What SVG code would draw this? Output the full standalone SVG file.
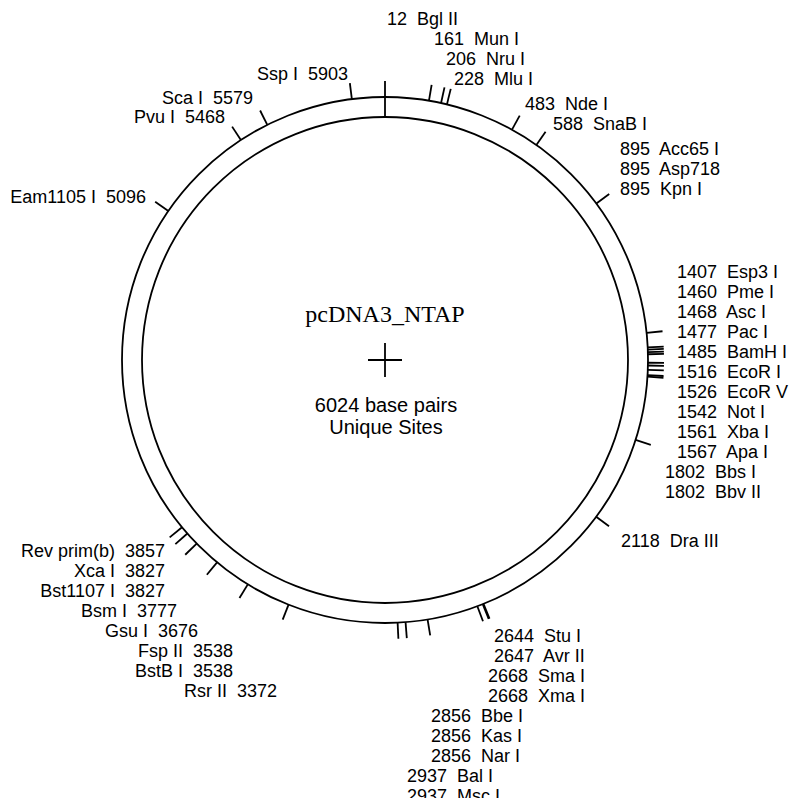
<svg xmlns="http://www.w3.org/2000/svg" width="791" height="798" viewBox="0 0 791 798">
<style>
  .bg{fill:#ffffff}
  .ring{fill:none;stroke:#000;stroke-width:1.8}
  .tk{stroke:#000;stroke-width:1.8;fill:none}
  .lb{font-family:"Liberation Sans",Arial,Helvetica,sans-serif;font-size:18px;fill:#000;white-space:pre}
  .le{text-anchor:end}
  .ttl{font-family:"Liberation Serif","Times New Roman",serif;font-size:24px;fill:#000;text-anchor:middle}
  .sub{font-family:"Liberation Sans",Arial,Helvetica,sans-serif;font-size:20px;fill:#000;text-anchor:middle}
</style>
<rect class="bg" x="0" y="0" width="791" height="798"/>
<g id="plasmid">
  <circle class="ring" cx="385" cy="360" r="263"/>
  <circle class="ring" cx="385" cy="360" r="243"/>
  <line class="tk" x1="385" y1="117" x2="385" y2="81"/>
  <line class="tk" x1="368" y1="360" x2="402" y2="360"/>
  <line class="tk" x1="385" y1="343" x2="385" y2="377"/>
  <text class="ttl" x="385" y="322">pcDNA3_NTAP</text>
  <text class="sub" x="386" y="412">6024 base pairs</text>
  <text class="sub" x="386" y="434">Unique Sites</text>
</g>
<g id="connectors"></g>
<g id="site-12"><text class="lb" x="387" y="25">12  Bgl II</text></g>
<g id="site-161"><line class="tk" x1="428.96" y1="100.70" x2="431.63" y2="84.93"/><text class="lb" x="434" y="45">161  Mun I</text></g>
<g id="site-206"><line class="tk" x1="441.08" y1="103.05" x2="444.49" y2="87.41"/><text class="lb" x="446" y="65">206  Nru I</text></g>
<g id="site-228"><line class="tk" x1="446.95" y1="104.40" x2="450.72" y2="88.85"/><text class="lb" x="454" y="85">228  Mlu I</text></g>
<g id="site-483"><line class="tk" x1="511.98" y1="129.68" x2="519.70" y2="115.67"/><text class="lb" x="525" y="110">483  Nde I</text></g>
<g id="site-588"><line class="tk" x1="536.36" y1="144.92" x2="545.57" y2="131.83"/><text class="lb" x="553" y="130">588  SnaB I</text></g>
<g id="site-895"><line class="tk" x1="596.35" y1="203.48" x2="609.21" y2="193.96"/>
  <text class="lb" x="620" y="155">895  Acc65 I</text>
  <text class="lb" x="620" y="175">895  Asp718</text>
  <text class="lb" x="620" y="195">895  Kpn I</text></g>
<g id="site-1407"><line class="tk" x1="646.60" y1="332.89" x2="662.51" y2="331.24"/><text class="lb" x="677" y="278">1407  Esp3 I</text></g>
<g id="site-1460"><line class="tk" x1="647.70" y1="347.38" x2="663.68" y2="346.62"/><text class="lb" x="677" y="298">1460  Pme I</text></g>
<g id="site-1468"><line class="tk" x1="647.79" y1="349.58" x2="663.78" y2="348.94"/><text class="lb" x="677" y="318">1468  Asc I</text></g>
<g id="site-1477"><line class="tk" x1="647.88" y1="352.05" x2="663.87" y2="351.56"/><text class="lb" x="677" y="338">1477  Pac I</text></g>
<g id="site-1485"><line class="tk" x1="647.94" y1="354.24" x2="663.93" y2="353.89"/><text class="lb" x="677" y="358">1485  BamH I</text></g>
<g id="site-1516"><line class="tk" x1="647.99" y1="362.75" x2="663.99" y2="362.91"/><text class="lb" x="677" y="378">1516  EcoR I</text></g>
<g id="site-1526"><line class="tk" x1="647.94" y1="365.49" x2="663.94" y2="365.82"/><text class="lb" x="677" y="398">1526  EcoR V</text></g>
<g id="site-1542"><line class="tk" x1="647.82" y1="369.87" x2="663.80" y2="370.47"/><text class="lb" x="677" y="418">1542  Not I</text></g>
<g id="site-1561"><line class="tk" x1="647.57" y1="375.08" x2="663.54" y2="376.00"/><text class="lb" x="677" y="438">1561  Xba I</text></g>
<g id="site-1567"><line class="tk" x1="647.47" y1="376.72" x2="663.44" y2="377.74"/><text class="lb" x="677" y="458">1567  Apa I</text></g>
<g id="site-1802"><line class="tk" x1="635.57" y1="439.91" x2="650.81" y2="444.77"/>
  <text class="lb" x="665" y="478">1802  Bbs I</text>
  <text class="lb" x="665" y="498">1802  Bbv II</text></g>
<g id="site-2118"><line class="tk" x1="596.18" y1="516.75" x2="609.03" y2="526.29"/><text class="lb" x="621" y="547">2118  Dra III</text></g>
<g id="site-2644"><line class="tk" x1="483.50" y1="603.86" x2="489.50" y2="618.69"/><text class="lb" x="494" y="642">2644  Stu I</text></g>
<g id="site-2647"><line class="tk" x1="482.74" y1="604.16" x2="488.69" y2="619.02"/><text class="lb" x="494" y="662">2647  Avr II</text></g>
<g id="site-2668"><line class="tk" x1="477.35" y1="606.25" x2="482.97" y2="621.23"/>
  <text class="lb" x="488" y="682">2668  Sma I</text>
  <text class="lb" x="488" y="702">2668  Xma I</text></g>
<g id="site-2856"><line class="tk" x1="427.61" y1="619.53" x2="430.20" y2="635.31"/>
  <text class="lb" x="431" y="722">2856  Bbe I</text>
  <text class="lb" x="431" y="742">2856  Kas I</text>
  <text class="lb" x="431" y="762">2856  Nar I</text></g>
<g id="site-2937"><line class="tk" x1="405.55" y1="622.19" x2="406.80" y2="638.14"/>
  <text class="lb" x="407" y="782">2937  Bal I</text>
  <text class="lb" x="407" y="802">2937  Msc I</text></g>
<g id="site-2966"><line class="tk" x1="397.61" y1="622.70" x2="398.38" y2="638.68"/></g>
<g id="site-3372"><line class="tk" x1="288.56" y1="604.68" x2="282.69" y2="619.56"/><text class="lb le" x="277" y="697">Rsr II  3372</text></g>
<g id="site-3538"><line class="tk" x1="247.82" y1="584.39" x2="239.48" y2="598.04"/>
  <text class="lb le" x="233" y="657">Fsp II  3538</text>
  <text class="lb le" x="233" y="677">BstB I  3538</text></g>
<g id="site-3676"><line class="tk" x1="217.07" y1="562.41" x2="206.85" y2="574.72"/><text class="lb le" x="198" y="637">Gsu I  3676</text></g>
<g id="site-3777"><line class="tk" x1="196.68" y1="543.59" x2="185.22" y2="554.76"/><text class="lb le" x="177" y="617">Bsm I  3777</text></g>
<g id="site-3827"><line class="tk" x1="187.38" y1="533.54" x2="175.36" y2="544.10"/>
  <text class="lb le" x="165" y="577">Xca I  3827</text>
  <text class="lb le" x="165" y="597">Bst1107 I  3827</text></g>
<g id="site-3857"><line class="tk" x1="182.03" y1="527.24" x2="169.68" y2="537.41"/><text class="lb le" x="165" y="557">Rev prim(b)  3857</text></g>
<g id="site-5096"><line class="tk" x1="168.35" y1="210.89" x2="155.17" y2="201.81"/><text class="lb le" x="146" y="203">Eam1105 I  5096</text></g>
<g id="site-5468"><line class="tk" x1="240.88" y1="140.01" x2="232.11" y2="126.62"/><text class="lb le" x="225" y="123">Pvu I  5468</text></g>
<g id="site-5579"><line class="tk" x1="267.29" y1="124.81" x2="260.12" y2="110.50"/><text class="lb le" x="253" y="104">Sca I  5579</text></g>
<g id="site-5903"><line class="tk" x1="351.89" y1="99.09" x2="349.88" y2="83.22"/><text class="lb le" x="348" y="80">Ssp I  5903</text></g>
</svg>
